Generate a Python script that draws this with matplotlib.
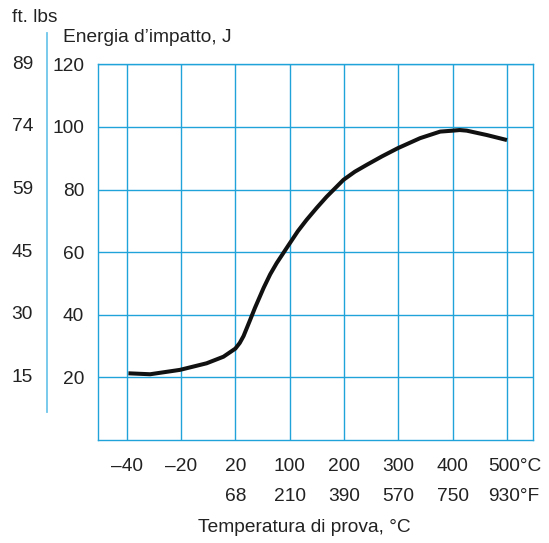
import matplotlib.pyplot as plt

plt.rcParams['font.family'] = ['Liberation Sans', 'DejaVu Sans']

# categorie asse x (posizioni equispaziate)
temp_c = ['\u201340', '\u201320', '20', '100', '200', '300', '400', '500']
temp_f = ['', '', '68', '210', '390', '570', '750', '930']

# curva energia d'impatto (x = indice categoria, y = J)
curve_x = [0.03, 0.43, 0.98, 1.47, 1.78, 2.0, 2.08, 2.15, 2.27, 2.36, 2.52, 2.64,
           2.76, 3.0, 3.15, 3.31, 3.5, 3.68, 3.99, 4.2, 4.42, 4.7, 4.99, 5.40,
           5.77, 6.0, 6.13, 6.26, 6.63, 7.0]
curve_y = [21.3, 21.0, 22.4, 24.5, 26.6, 29.2, 31.0, 33.2, 38.3, 42.2, 48.6, 52.9,
           56.5, 62.8, 66.7, 70.3, 74.2, 77.7, 83.1, 85.7, 87.9, 90.6, 93.2, 96.4,
           98.5, 98.8, 99.0, 98.8, 97.4, 95.8]

j_ticks = [20, 40, 60, 80, 100, 120]
ftlbs = ['15', '30', '45', '59', '74', '89']

grid_col = '#1fa3d9'
txt_col = '#222222'
fs = 13.8

fig = plt.figure(figsize=(5.49, 5.43), dpi=100)
ax = fig.add_axes([0.1785, 0.1897, 0.7924, 0.6919])

ax.set_xlim(-0.53, 7.48)
ax.set_ylim(0, 120)
for i in range(len(temp_c)):
    ax.axvline(i, color=grid_col, lw=1.0, zorder=1)
for v in j_ticks:
    ax.axhline(v, color=grid_col, lw=1.0, zorder=1)
for s in ax.spines.values():
    s.set_color(grid_col)
    s.set_linewidth(1.0)

ax.plot(curve_x, curve_y, color='#111111', lw=2.9, solid_capstyle='butt',
        solid_joinstyle='round', zorder=3)

ax.set_xticks([])
ax.set_yticks(j_ticks)
ax.set_yticklabels([str(v) for v in j_ticks], fontsize=fs, color=txt_col)
ax.tick_params(axis='y', length=0, pad=10)

# seconda scala ft. lbs
for v, lab in zip(j_ticks, ftlbs):
    ax.annotate(lab, xy=(0, v), xycoords=('axes fraction', 'data'),
                xytext=(-46.8, 0), textcoords='offset points',
                ha='right', va='center', fontsize=fs, color=txt_col)

# etichette asse x
for i, (c, f) in enumerate(zip(temp_c, temp_f)):
    if i == len(temp_c) - 1:
        c = c + '\u00b0C'
        f = f + '\u00b0F'
        ha, dx = 'left', -13.2
    else:
        ha, dx = 'center', 0
    ax.annotate(c, xy=(i, 0), xycoords=('data', 'axes fraction'),
                xytext=(dx, -19.2), textcoords='offset points',
                ha=ha, va='center', fontsize=fs, color=txt_col)
    ax.annotate(f, xy=(i, 0), xycoords=('data', 'axes fraction'),
                xytext=(dx, -41), textcoords='offset points',
                ha=ha, va='center', fontsize=fs, color=txt_col)

fig.text(304 / 549, 1 - 528 / 543, 'Temperatura di prova, \u00b0C', ha='center', va='center',
         fontsize=fs, color=txt_col)
fig.text(12 / 549, 1 - 17 / 543, 'ft. lbs', ha='left', va='center', fontsize=fs, color=txt_col)
fig.text(63 / 549, 1 - 37 / 543, 'Energia d\u2019impatto, J', ha='left', va='center',
         fontsize=fs, color=txt_col)

# linea verticale di separazione
fig.add_artist(plt.Line2D([47 / 549, 47 / 549], [1 - 412 / 543, 1 - 33 / 543],
                          color='#6ec6ea', lw=1.3))

fig.savefig('out.png', dpi=100)
